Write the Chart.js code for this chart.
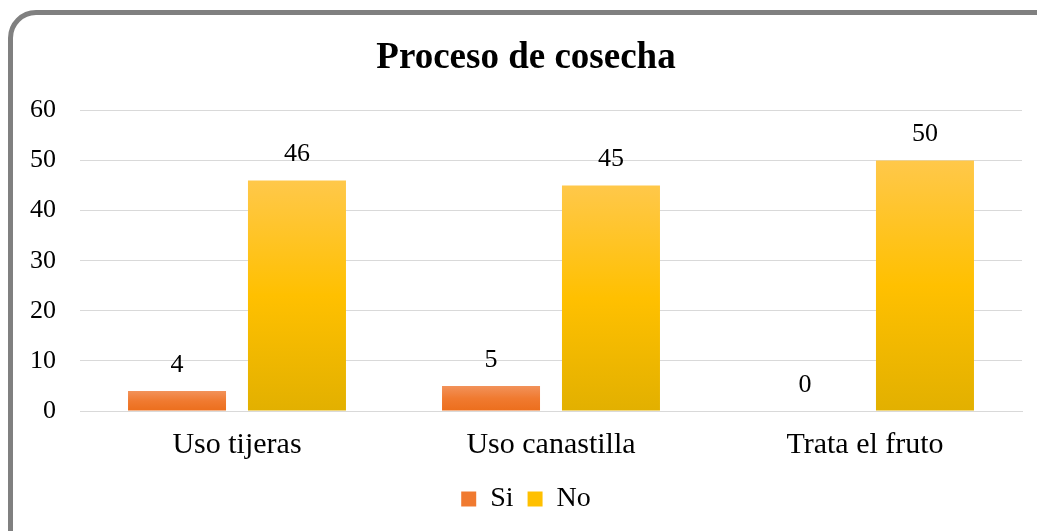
<!DOCTYPE html>
<html>
<head>
<meta charset="utf-8">
<script src="https://cdn.jsdelivr.net/npm/chart.js@4.4.0/dist/chart.umd.min.js"></script>
<style>
    body { margin: 0; background: #fff; overflow: hidden; }
    .marco {
        position: absolute; left: 8px; top: 10px;
        width: 1100px; height: 600px;
        border: 5px solid #808080; border-radius: 28px;
    }
    .caja { position: absolute; left: 0; top: 0; width: 1037px; height: 531px; }
</style>
</head>
<body>
<div class="marco"></div>
<div class="caja"><canvas id="grafico1"></canvas></div>
<script>
const categorias = ['Uso tijeras', 'Uso canastilla', 'Trata el fruto'];
const valoresSi = [4, 5, 0];
const valoresNo = [46, 45, 50];
const ticksY = [0, 10, 20, 30, 40, 50, 60];

const fuente = "'Liberation Serif', 'Times New Roman', serif";

// degradado vertical por barra (claro arriba, oscuro abajo)
function degradado(colores) {
    return function (context) {
        const chart = context.chart;
        const area = chart.chartArea;
        if (!area || !context.parsed) return colores[1];
        const y = chart.scales.y;
        const arriba = y.getPixelForValue(context.parsed.y);
        const abajo = y.getPixelForValue(0);
        if (abajo - arriba < 1) return colores[1];
        const g = chart.ctx.createLinearGradient(0, arriba, 0, abajo);
        g.addColorStop(0, colores[0]);
        g.addColorStop(0.5, colores[1]);
        g.addColorStop(1, colores[2]);
        return g;
    };
}

const etiquetas = {
    id: 'etiquetas',
    afterDatasetsDraw(chart) {
        const ctx = chart.ctx;
        ctx.save();
        ctx.font = "26px " + fuente;
        ctx.fillStyle = '#000';
        ctx.textAlign = 'center';
        ctx.textBaseline = 'middle';
        chart.data.datasets.forEach(function (ds, i) {
            chart.getDatasetMeta(i).data.forEach(function (barra, j) {
                ctx.fillText(ds.data[j], barra.x, barra.y - 26);
            });
        });
        ctx.restore();
    }
};

const ctx1 = document.getElementById('grafico1');

new Chart(ctx1, {
    type: 'bar',
    data: {
        labels: categorias,
        datasets: [
            {
                label: 'Si',
                data: valoresSi,
                backgroundColor: degradado(['#f2925a', '#f07a30', '#ec6e1c'])
            },
            {
                label: 'No',
                data: valoresNo,
                backgroundColor: degradado(['#ffc84a', '#ffc000', '#e2b000'])
            }
        ]
    },
    options: {
        responsive: true,
        maintainAspectRatio: false,
        animation: false,
        categoryPercentage: 0.764,
        barPercentage: 0.817,
        layout: {
            padding: { left: 30, right: 15, top: 36, bottom: 8 }
        },
        plugins: {
            title: {
                display: true,
                text: 'Proceso de cosecha',
                color: '#000',
                font: { family: fuente, size: 37, weight: 'bold' },
                padding: { top: 0, bottom: 30 }
            },
            legend: {
                position: 'bottom',
                labels: {
                    color: '#000',
                    font: { family: fuente, size: 28 },
                    boxWidth: 15,
                    boxHeight: 15,
                    padding: 14,
                    generateLabels: function (chart) {
                        return [
                            { text: 'Si', fillStyle: '#f07a30', strokeStyle: '#f07a30', lineWidth: 0, datasetIndex: 0 },
                            { text: 'No', fillStyle: '#ffc000', strokeStyle: '#ffc000', lineWidth: 0, datasetIndex: 1 }
                        ];
                    }
                }
            },
            tooltip: { enabled: false }
        },
        scales: {
            x: {
                grid: { display: false },
                border: { color: '#d9d9d9', width: 1 },
                ticks: {
                    color: '#000',
                    font: { family: fuente, size: 30 },
                    padding: 8
                }
            },
            y: {
                min: 0,
                max: 60,
                afterBuildTicks: function (scale) {
                    scale.ticks = ticksY.map(function (v) { return { value: v }; });
                },
                afterFit: function (scale) {
                    scale.width = 50;
                },
                grid: { color: '#d9d9d9', drawTicks: false },
                border: { display: false },
                ticks: {
                    color: '#000',
                    font: { family: fuente, size: 26 },
                    padding: 24
                }
            }
        }
    },
    plugins: [etiquetas]
});
</script>
</body>
</html>
